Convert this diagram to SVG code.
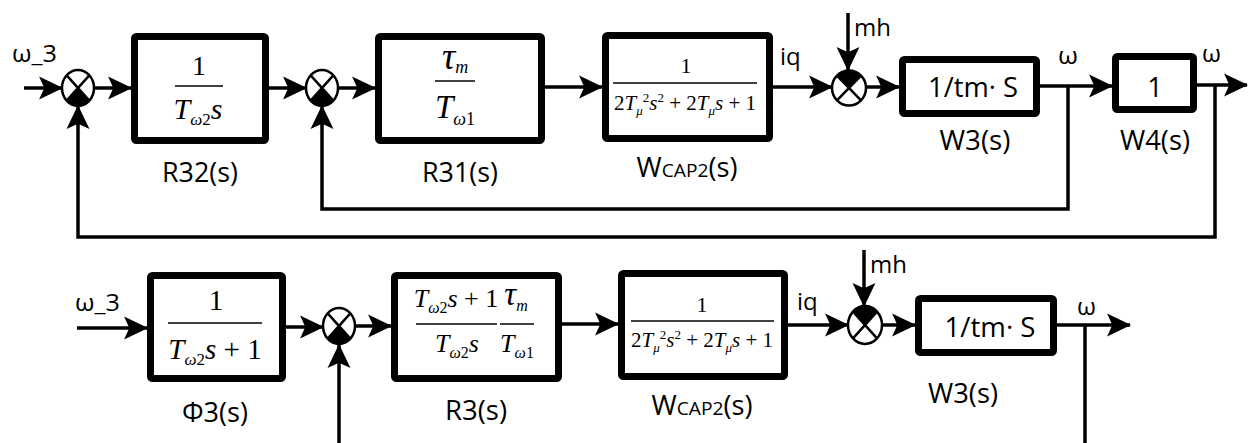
<svg xmlns="http://www.w3.org/2000/svg" width="1253" height="443" viewBox="0 0 1253 443">
<defs>
<marker id="ah" markerUnits="userSpaceOnUse" markerWidth="25" markerHeight="25" viewBox="0 0 24 24" refX="22" refY="12" orient="auto">
<path d="M0,1 L23,12 L0,23 L5,12 Z" fill="#000"/>
</marker>
</defs>
<style>
.blk{fill:#fff;stroke:#000;stroke-width:7}
.sj{fill:#fff;stroke:#000;stroke-width:2.5}
.sjx{stroke:#000;stroke-width:2.5;fill:none}
.con{fill:none;stroke:#000;stroke-width:3.5}
.frl{stroke:#000;stroke-width:1.5}
.lbl{font-family:"Open Sans","DejaVu Sans",sans-serif;font-size:27px;fill:#000}
.sig{font-family:"Open Sans","DejaVu Sans",sans-serif;font-size:24px;fill:#000}
.m{font-family:"Liberation Serif","Times New Roman",serif;fill:#000}
.i{font-style:italic}
</style>
<rect width="1253" height="443" fill="#fff"/>

<g id="connectors">
<path class="con" d="M24,88 L62,88" marker-end="url(#ah)"/>
<path class="con" d="M94,88 L131,88" marker-end="url(#ah)"/>
<path class="con" d="M269,88 L306,88" marker-end="url(#ah)"/>
<path class="con" d="M338,88 L375,88" marker-end="url(#ah)"/>
<path class="con" d="M545,87 L602,87" marker-end="url(#ah)"/>
<path class="con" d="M773,87 L832,87" marker-end="url(#ah)"/>
<path class="con" d="M848,13 L848,70" marker-end="url(#ah)"/>
<path class="con" d="M866,87 L899,87" marker-end="url(#ah)"/>
<path class="con" d="M1040,86 L1112,86" marker-end="url(#ah)"/>
<path class="con" d="M1197,85 L1247,85" marker-end="url(#ah)"/>
<path class="con" d="M1068,86 L1068,209 L322,209 L322,106" marker-end="url(#ah)"/>
<path class="con" d="M1215,85 L1215,237 L78,237 L78,106" marker-end="url(#ah)"/>

<path class="con" d="M77,328 L147,328" marker-end="url(#ah)"/>
<path class="con" d="M286,327 L323,327" marker-end="url(#ah)"/>
<path class="con" d="M355,326 L391,326" marker-end="url(#ah)"/>
<path class="con" d="M562,324 L618,324" marker-end="url(#ah)"/>
<path class="con" d="M788,325 L848,325" marker-end="url(#ah)"/>
<path class="con" d="M864,250 L864,306" marker-end="url(#ah)"/>
<path class="con" d="M882,325 L915,325" marker-end="url(#ah)"/>
<path class="con" d="M1057,325 L1130,325" marker-end="url(#ah)"/>
<path class="con" d="M1085,325 L1085,450 L339,450 L339,345" marker-end="url(#ah)"/>
</g>

<g id="in1"><text class="sig" x="12" y="62" textLength="45" lengthAdjust="spacingAndGlyphs">ω_3</text></g>

<g id="sum1">
<ellipse class="sj" cx="78" cy="88" rx="16" ry="18"/>
<path d="M78,88 L66.7,100.7 A16,18 0 0 0 89.3,100.7 Z" fill="#000"/>
<path class="sjx" d="M66.7,75.3 L89.3,100.7 M89.3,75.3 L66.7,100.7"/>
</g>

<g id="R32">
<rect class="blk" x="134.5" y="36.5" width="131" height="104" rx="2"/>
<text class="m" x="199" y="75" text-anchor="middle" font-size="28">1</text>
<line class="frl" x1="175" y1="86" x2="223" y2="86"/>
<text class="m" x="198" y="119" text-anchor="middle" font-size="30"><tspan class="i">T</tspan><tspan class="i" font-size="17" dy="6">ω</tspan><tspan font-size="17">2</tspan><tspan class="i" dy="-6">s</tspan></text>
<text class="lbl" x="200" y="182" text-anchor="middle" textLength="76" lengthAdjust="spacingAndGlyphs">R32(s)</text>
</g>

<g id="sum2">
<ellipse class="sj" cx="322" cy="88" rx="16" ry="18"/>
<path d="M322,88 L310.7,100.7 A16,18 0 0 0 333.3,100.7 Z" fill="#000"/>
<path class="sjx" d="M310.7,75.3 L333.3,100.7 M333.3,75.3 L310.7,100.7"/>
</g>

<g id="R31">
<rect class="blk" x="378.5" y="36.5" width="163" height="104" rx="2"/>
<text class="m" x="455" y="69" text-anchor="middle" font-size="37"><tspan class="i">τ</tspan><tspan class="i" font-size="18" dy="4">m</tspan></text>
<line class="frl" x1="435" y1="81" x2="475" y2="81"/>
<text class="m" x="455" y="118" text-anchor="middle" font-size="33"><tspan class="i">T</tspan><tspan class="i" font-size="18" dy="7">ω</tspan><tspan font-size="18">1</tspan></text>
<text class="lbl" x="460" y="182" text-anchor="middle" textLength="76" lengthAdjust="spacingAndGlyphs">R31(s)</text>
</g>

<g id="WCAP2a">
<rect class="blk" x="605.5" y="35.5" width="164" height="103" rx="2"/>
<text class="m" x="686" y="73" text-anchor="middle" font-size="22">1</text>
<line class="frl" x1="613" y1="83" x2="757" y2="83"/>
<text class="m" x="685" y="110" text-anchor="middle" font-size="21">2<tspan class="i">T</tspan><tspan class="i" font-size="13" dy="5">μ</tspan><tspan font-size="13" dy="-13">2</tspan><tspan class="i" dy="8">s</tspan><tspan font-size="13" dy="-8">2</tspan><tspan dy="8"> + 2</tspan><tspan class="i">T</tspan><tspan class="i" font-size="13" dy="5">μ</tspan><tspan class="i" dy="-5">s</tspan><tspan> + 1</tspan></text>
<text class="lbl" x="687" y="177" text-anchor="middle" textLength="101" lengthAdjust="spacingAndGlyphs">W<tspan font-size="19">CAP2</tspan>(s)</text>
</g>

<g id="iq1"><text class="sig" x="780" y="65">iq</text></g>

<g id="sum3">
<ellipse class="sj" cx="849" cy="88" rx="17" ry="17.5"/>
<path d="M849,88 L837,75.6 A17,17.5 0 0 1 861,75.6 Z" fill="#000"/>
<path class="sjx" d="M837,75.6 L861,100.4 M861,75.6 L837,100.4"/>
</g>
<g id="mh1"><text class="sig" x="854" y="36">mh</text></g>

<g id="W3a">
<rect class="blk" x="902.5" y="59.5" width="134" height="54" rx="2"/>
<text class="lbl" x="973" y="97" text-anchor="middle" font-size="30" textLength="90" lengthAdjust="spacingAndGlyphs">1/tm· S</text>
<text class="lbl" x="975" y="150" text-anchor="middle" textLength="71" lengthAdjust="spacingAndGlyphs">W3(s)</text>
</g>
<g id="w1"><text class="sig" x="1058" y="64" font-size="27" textLength="20" lengthAdjust="spacingAndGlyphs">ω</text></g>

<g id="W4">
<rect class="blk" x="1115.5" y="56.5" width="78" height="53" rx="2"/>
<text class="lbl" x="1155" y="97" text-anchor="middle" font-size="30">1</text>
<text class="lbl" x="1155" y="150" text-anchor="middle" textLength="70" lengthAdjust="spacingAndGlyphs">W4(s)</text>
</g>
<g id="w2"><text class="sig" x="1202" y="62" font-size="27" textLength="19" lengthAdjust="spacingAndGlyphs">ω</text></g>

<g id="in2"><text class="sig" x="75" y="311" textLength="45" lengthAdjust="spacingAndGlyphs">ω_3</text></g>

<g id="Phi3">
<rect class="blk" x="150.5" y="275.5" width="132" height="103" rx="2"/>
<text class="m" x="216" y="310" text-anchor="middle" font-size="29">1</text>
<line class="frl" x1="168" y1="323" x2="262" y2="323"/>
<text class="m" x="215" y="359" text-anchor="middle" font-size="29"><tspan class="i">T</tspan><tspan class="i" font-size="17" dy="6">ω</tspan><tspan font-size="17">2</tspan><tspan class="i" dy="-6">s</tspan><tspan> + 1</tspan></text>
<text class="lbl" x="215" y="422" text-anchor="middle" textLength="66" lengthAdjust="spacingAndGlyphs">Φ3(s)</text>
</g>

<g id="sum4">
<ellipse class="sj" cx="339" cy="326" rx="16" ry="18"/>
<path d="M339,326 L327.7,338.7 A16,18 0 0 0 350.3,338.7 Z" fill="#000"/>
<path class="sjx" d="M327.7,313.3 L350.3,338.7 M350.3,313.3 L327.7,338.7"/>
</g>

<g id="R3">
<rect class="blk" x="394.5" y="275.5" width="164" height="103" rx="2"/>
<text class="m" x="456" y="307" text-anchor="middle" font-size="26"><tspan class="i">T</tspan><tspan class="i" font-size="16" dy="6">ω</tspan><tspan font-size="16">2</tspan><tspan class="i" dy="-6">s</tspan><tspan> + 1</tspan></text>
<text class="m" x="516" y="305" text-anchor="middle" font-size="33"><tspan class="i">τ</tspan><tspan class="i" font-size="16" dy="6">m</tspan></text>
<line class="frl" x1="416" y1="324" x2="497" y2="324"/>
<line class="frl" x1="500" y1="324" x2="534" y2="324"/>
<text class="m" x="457" y="352" text-anchor="middle" font-size="26"><tspan class="i">T</tspan><tspan class="i" font-size="16" dy="6">ω</tspan><tspan font-size="16">2</tspan><tspan class="i" dy="-6">s</tspan></text>
<text class="m" x="517" y="352" text-anchor="middle" font-size="26"><tspan class="i">T</tspan><tspan class="i" font-size="16" dy="6">ω</tspan><tspan font-size="16">1</tspan></text>
<text class="lbl" x="476" y="420" text-anchor="middle" textLength="62" lengthAdjust="spacingAndGlyphs">R3(s)</text>
</g>

<g id="WCAP2b">
<rect class="blk" x="621.5" y="273.5" width="163" height="103" rx="2"/>
<text class="m" x="702" y="312" text-anchor="middle" font-size="22">1</text>
<line class="frl" x1="631" y1="321" x2="774" y2="321"/>
<text class="m" x="702" y="347" text-anchor="middle" font-size="21">2<tspan class="i">T</tspan><tspan class="i" font-size="13" dy="5">μ</tspan><tspan font-size="13" dy="-13">2</tspan><tspan class="i" dy="8">s</tspan><tspan font-size="13" dy="-8">2</tspan><tspan dy="8"> + 2</tspan><tspan class="i">T</tspan><tspan class="i" font-size="13" dy="5">μ</tspan><tspan class="i" dy="-5">s</tspan><tspan> + 1</tspan></text>
<text class="lbl" x="702" y="415" text-anchor="middle" textLength="101" lengthAdjust="spacingAndGlyphs">W<tspan font-size="19">CAP2</tspan>(s)</text>
</g>

<g id="iq2"><text class="sig" x="797" y="310">iq</text></g>

<g id="sum5">
<ellipse class="sj" cx="865" cy="325" rx="17" ry="19"/>
<path d="M865,325 L853,311.6 A17,19 0 0 1 877,311.6 Z" fill="#000"/>
<path class="sjx" d="M853,311.6 L877,338.4 M877,311.6 L853,338.4"/>
</g>
<g id="mh2"><text class="sig" x="870" y="273">mh</text></g>

<g id="W3b">
<rect class="blk" x="918.5" y="298.5" width="135" height="54" rx="2"/>
<text class="lbl" x="990" y="337" text-anchor="middle" font-size="30" textLength="91" lengthAdjust="spacingAndGlyphs">1/tm· S</text>
<text class="lbl" x="963" y="403" text-anchor="middle" textLength="70" lengthAdjust="spacingAndGlyphs">W3(s)</text>
</g>
<g id="w3"><text class="sig" x="1077" y="315" font-size="27" textLength="19" lengthAdjust="spacingAndGlyphs">ω</text></g>
</svg>
